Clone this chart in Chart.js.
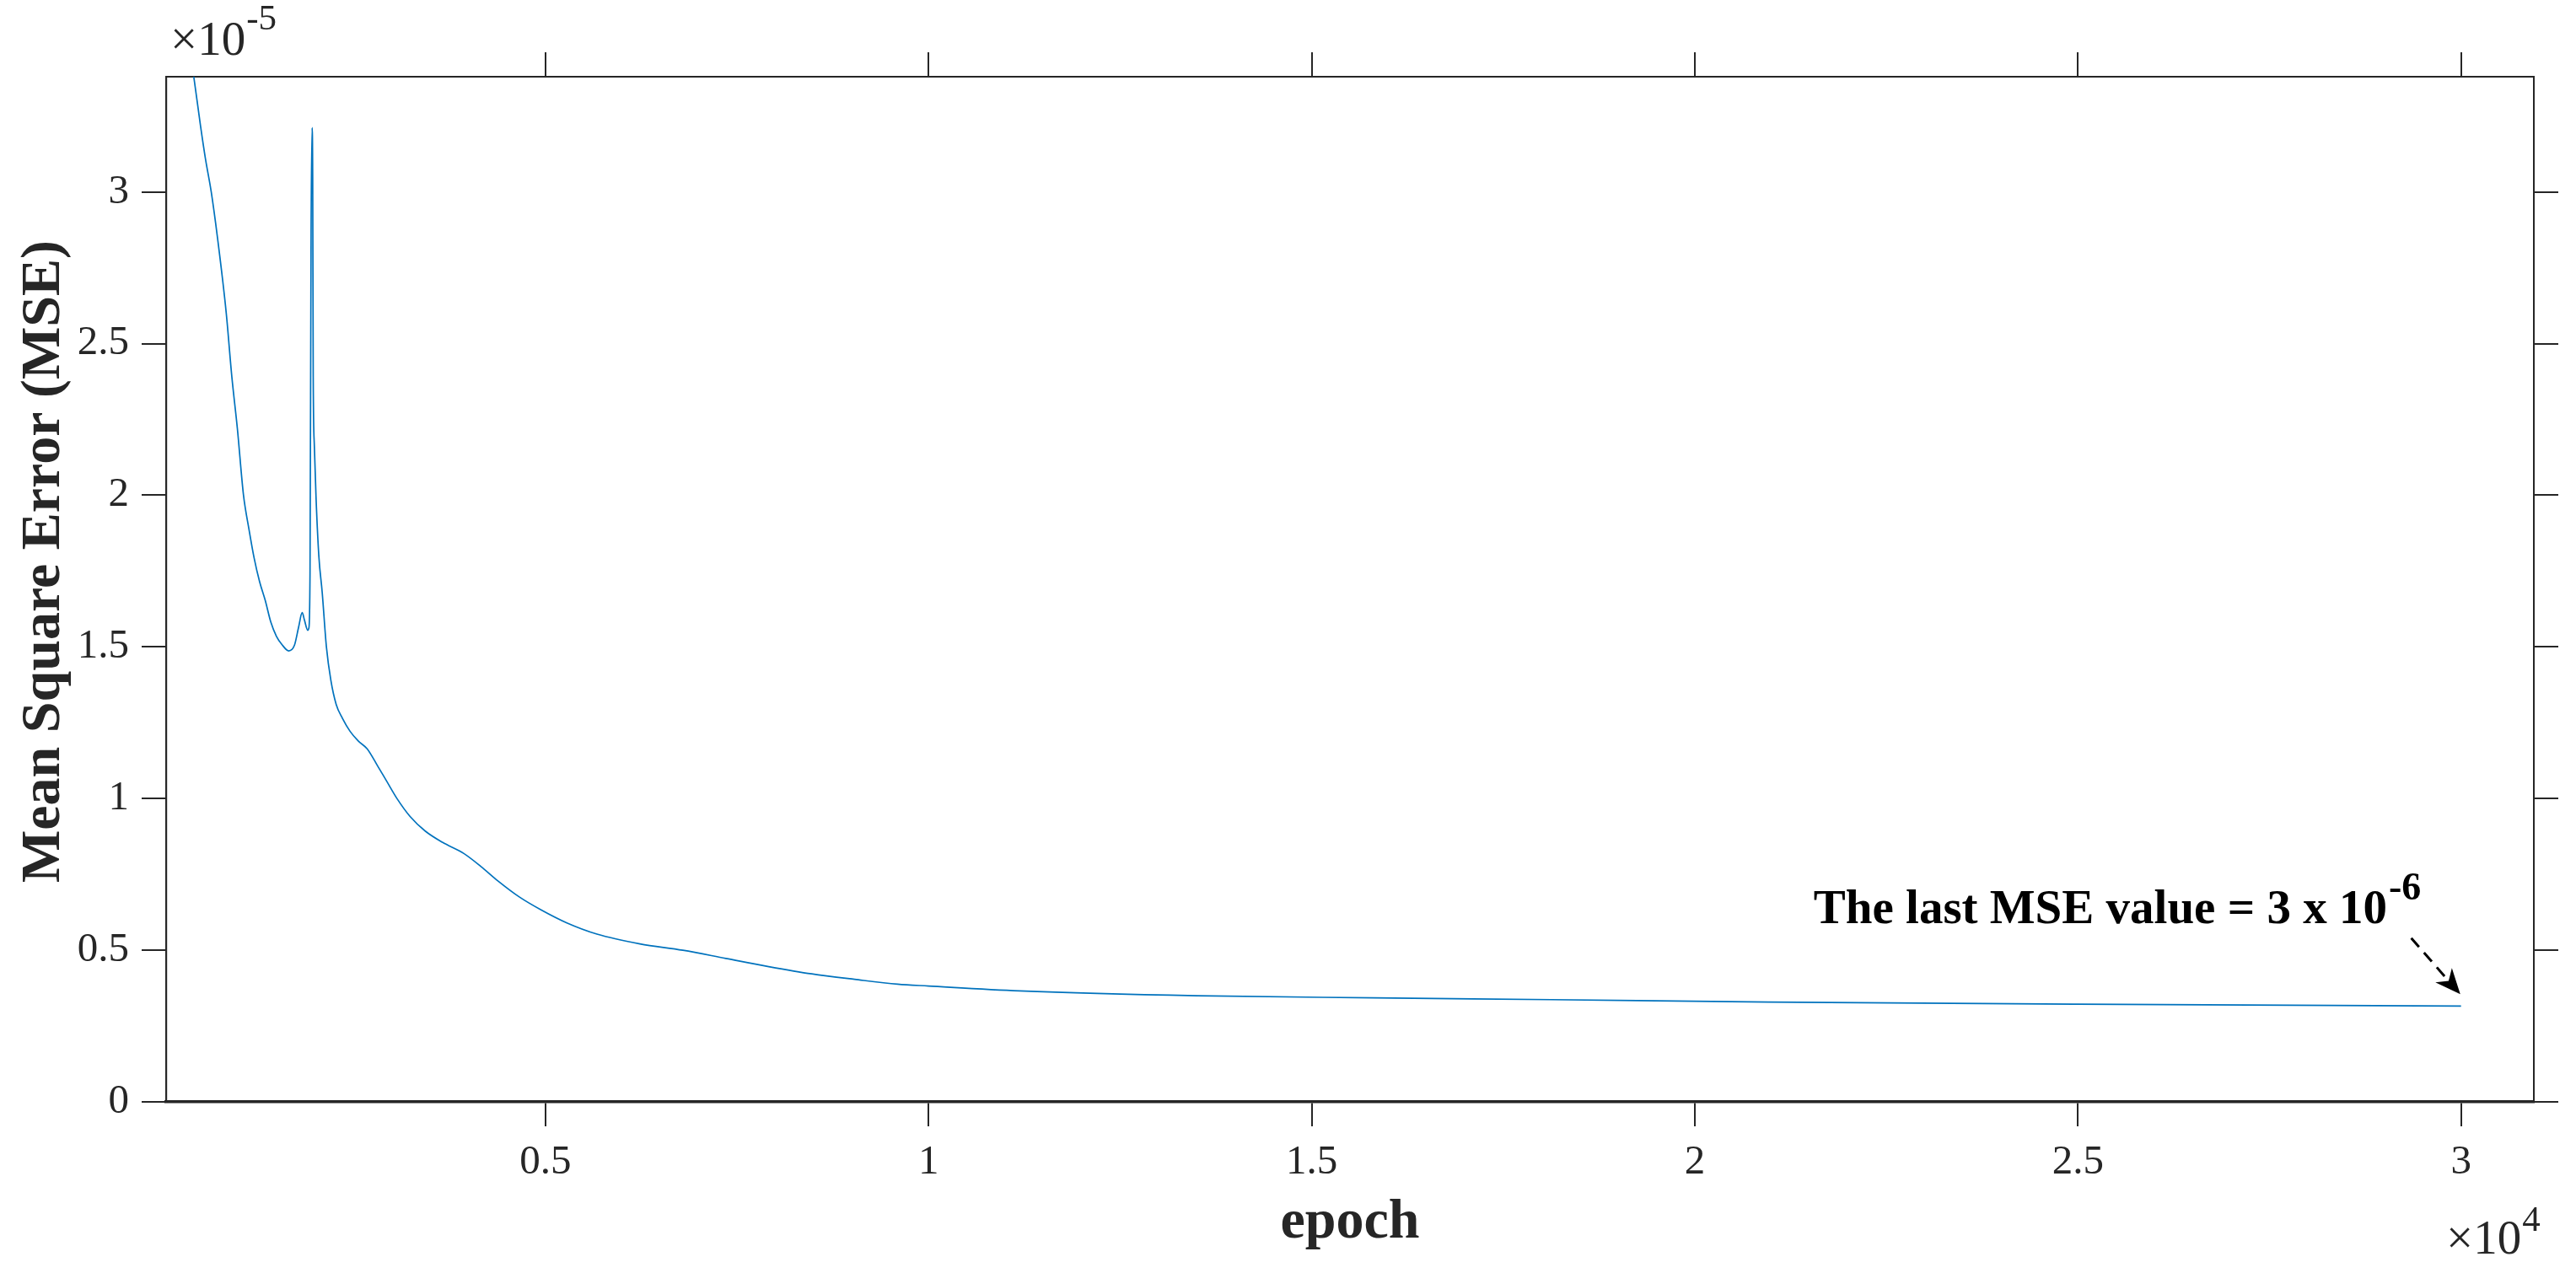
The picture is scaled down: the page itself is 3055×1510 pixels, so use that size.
<!DOCTYPE html>
<html>
<head>
<meta charset="utf-8">
<title>MSE vs epoch</title>
<script src="https://cdn.jsdelivr.net/npm/chart.js@4.4.1/dist/chart.umd.min.js"></script>
<style>
    html, body { margin: 0; padding: 0; background: #ffffff; }
    #wrap { width: 3055px; height: 1510px; }
</style>
</head>
<body>
<div id="wrap"><canvas id="mseChart" width="3055" height="1510"></canvas></div>
<script>
// training curve (MSE in units of 1e-5)
const epochs = [1, 412, 498, 563, 639, 720, 835, 908, 980, 1060,
    1130, 1198, 1270, 1344, 1416, 1490, 1561, 1650, 1724, 1779,
    1826, 1854, 1898, 1913, 1928, 1942, 1956, 1963, 1970, 1985,
    2007, 2043, 2087, 2142, 2200, 2270, 2350, 2450, 2557, 2674,
    2814, 2927, 3066, 3234, 3431, 3655, 3935, 4159, 4383, 4663,
    4943, 5280, 5673, 6233, 6794, 7354, 7914, 8475, 9035, 9596,
    10000, 11191, 13503, 15817, 18128, 20963, 25000, 30000];
const mseE5 = [4.05, 3.378, 3.22, 3.11, 3.00, 2.85, 2.60, 2.39, 2.22, 2.00,
    1.89, 1.794, 1.715, 1.653, 1.582, 1.535, 1.508, 1.487, 1.505, 1.565,
    1.613, 1.59, 1.555, 1.562, 1.74, 2.87, 3.212, 3.05, 2.39, 2.16,
    1.99, 1.80, 1.68, 1.50, 1.39, 1.31, 1.265, 1.222, 1.19, 1.164,
    1.106, 1.058, 0.999, 0.941, 0.893, 0.856, 0.819, 0.776, 0.728, 0.675,
    0.633, 0.590, 0.553, 0.521, 0.500, 0.473, 0.446, 0.422, 0.404, 0.388,
    0.382, 0.366, 0.350, 0.343, 0.337, 0.329, 0.322, 0.316];

const xTicks = [5000, 10000, 15000, 20000, 25000, 30000];
const yTicks = [0, 0.5, 1, 1.5, 2, 2.5, 3];
const xRange = [50, 30950];
const yRange = [0, 3.38];

const xTitle = 'epoch';
const yTitle = 'Mean Square Error (MSE)';
const noteText = 'The last MSE value = 3 x 10';
const noteExp = '-6';
const noteAt = [21550, 0.589];
const arrowFrom = [29350, 0.54];
const arrowTo = [29990, 0.355];

const ink = '#262626';
const lineBlue = '#0072BD';
const serif = '"Liberation Serif", "Times New Roman", serif';

document.addEventListener('DOMContentLoaded', () => {
    const ctx = document.getElementById('mseChart').getContext('2d');

    const useTicks = list => scale => { scale.ticks = list.map(v => ({value: v})); };

    function axisGrid() {
        return {drawOnChartArea: false, drawTicks: true, tickLength: 29, color: ink, lineWidth: 2};
    }

    function drawPower(c, base, exp, x, baseline, size, lift) {
        c.textAlign = 'left';
        c.textBaseline = 'alphabetic';
        c.font = `${size}px ${serif}`;
        c.fillText(base, x, baseline);
        const w = c.measureText(base).width;
        c.font = `${Math.round(size * 0.76)}px ${serif}`;
        c.fillText(exp, x + w + 1, baseline - lift);
    }

    const figureText = {
        id: 'figureText',
        afterDraw(chart) {
            const c = chart.ctx;
            const area = chart.chartArea;
            const sx = chart.scales.x;
            const sy = chart.scales.y;
            c.save();
            c.fillStyle = ink;

            // axis titles
            c.font = `bold 66px ${serif}`;
            c.textAlign = 'center';
            c.textBaseline = 'alphabetic';
            c.fillText(xTitle, (area.left + area.right) / 2, area.bottom + 161);
            c.save();
            c.translate(area.left - 127, (area.top + area.bottom) / 2 - 33);
            c.rotate(-Math.PI / 2);
            c.fillText(yTitle, 0, 0);
            c.restore();

            // exponent labels of the axes
            drawPower(c, '\u00d710', '-5', area.left + 5, area.top - 26, 57, 30);
            drawPower(c, '\u00d710', '4', area.right - 104, area.bottom + 180, 57, 27);

            // annotation
            c.fillStyle = '#000000';
            const tx = sx.getPixelForValue(noteAt[0]);
            const ty = sy.getPixelForValue(noteAt[1]);
            c.font = `bold 57px ${serif}`;
            c.textAlign = 'left';
            c.fillText(noteText, tx, ty);
            const tw = c.measureText(noteText).width;
            c.font = `bold 46px ${serif}`;
            c.fillText(noteExp, tx + tw + 2, ty - 28);

            // dashed arrow
            const x0 = sx.getPixelForValue(arrowFrom[0]);
            const y0 = sy.getPixelForValue(arrowFrom[1]);
            const x1 = sx.getPixelForValue(arrowTo[0]);
            const y1 = sy.getPixelForValue(arrowTo[1]);
            const len = Math.hypot(x1 - x0, y1 - y0);
            const ux = (x1 - x0) / len, uy = (y1 - y0) / len;
            const headL = 30, headW = 13;
            c.strokeStyle = '#000000';
            c.lineWidth = 3;
            c.setLineDash([14, 9]);
            c.beginPath();
            c.moveTo(x0, y0);
            c.lineTo(x1 - ux * headL * 0.8, y1 - uy * headL * 0.8);
            c.stroke();
            c.setLineDash([]);
            c.beginPath();
            c.moveTo(x1, y1);
            c.lineTo(x1 - ux * headL - uy * headW, y1 - uy * headL + ux * headW);
            c.lineTo(x1 - ux * headL * 0.7, y1 - uy * headL * 0.7);
            c.lineTo(x1 - ux * headL + uy * headW, y1 - uy * headL - ux * headW);
            c.closePath();
            c.fill();

            c.restore();
        }
    };

    new Chart(ctx, {
        type: 'line',
        data: {
            datasets: [{
                data: epochs.map((e, i) => ({x: e, y: mseE5[i]})),
                borderColor: lineBlue,
                borderWidth: 1.7,
                pointRadius: 0,
                fill: false,
                cubicInterpolationMode: 'monotone',
                xAxisID: 'x',
                yAxisID: 'y'
            }]
        },
        options: {
            responsive: false,
            devicePixelRatio: 1,
            animation: false,
            layout: {padding: 0},
            plugins: {legend: {display: false}, tooltip: {enabled: false}},
            scales: {
                x: {
                    type: 'linear', position: 'bottom',
                    min: xRange[0], max: xRange[1],
                    afterBuildTicks: useTicks(xTicks),
                    afterFit: s => { s.height = 203; },
                    ticks: {
                        color: ink, padding: 14, maxRotation: 0,
                        font: {family: serif, size: 49},
                        callback: v => String(v / 10000)
                    },
                    grid: axisGrid(),
                    border: {display: true, color: ink, width: 3.5}
                },
                xTop: {
                    type: 'linear', position: 'top',
                    min: xRange[0], max: xRange[1],
                    afterBuildTicks: useTicks(xTicks),
                    afterFit: s => { s.height = 91; },
                    ticks: {display: false},
                    grid: axisGrid(),
                    border: {display: true, color: ink, width: 2}
                },
                y: {
                    type: 'linear', position: 'left',
                    min: yRange[0], max: yRange[1],
                    afterBuildTicks: useTicks(yTicks),
                    afterFit: s => { s.width = 197; },
                    ticks: {
                        color: ink, padding: 15,
                        font: {family: serif, size: 49},
                        callback: v => String(v)
                    },
                    grid: axisGrid(),
                    border: {display: true, color: ink, width: 2.2}
                },
                yRight: {
                    type: 'linear', position: 'right',
                    min: yRange[0], max: yRange[1],
                    afterBuildTicks: useTicks(yTicks),
                    afterFit: s => { s.width = 50; },
                    ticks: {display: false},
                    grid: axisGrid(),
                    border: {display: true, color: ink, width: 2}
                }
            }
        },
        plugins: [figureText]
    });
});
</script>
</body>
</html>
